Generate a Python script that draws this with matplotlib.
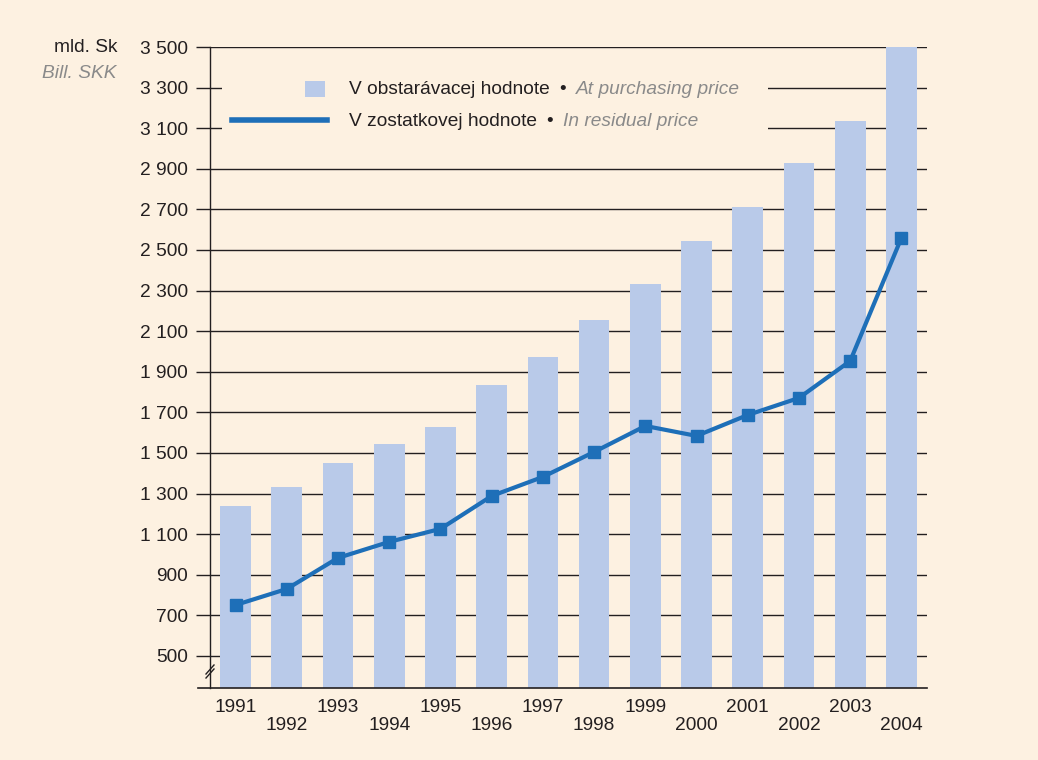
import matplotlib.pyplot as plt
from matplotlib.patches import Rectangle
from matplotlib.lines import Line2D

# data
years = [1991, 1992, 1993, 1994, 1995, 1996, 1997, 1998, 1999, 2000, 2001, 2002, 2003, 2004]
purchasing = [1240, 1330, 1450, 1545, 1630, 1835, 1975, 2155, 2330, 2545, 2712, 2930, 3135, 3500]
residual = [751, 830, 983, 1062, 1126, 1288, 1382, 1505, 1633, 1584, 1687, 1771, 1953, 2559]
yticks = list(range(500, 3501, 200))

bg = "#fdf1e1"
bar_col = "#b9cae9"
line_col = "#1e6fb8"
dark = "#231f20"
gray = "#8a8a8a"

plt.rcParams['font.family'] = ['Liberation Sans', 'DejaVu Sans']
fs = 13.8

W, H = 1038, 760
fig = plt.figure(figsize=(W / 100, H / 100), dpi=100, facecolor=bg)


def px(x, y):
    return x / W, (H - y) / H


ax = fig.add_axes([210 / W, (H - 688) / H, 717 / W, 641 / H])
ax.set_facecolor(bg)

x = list(range(len(years)))
ax.bar(x, purchasing, width=0.6, color=bar_col, zorder=2)
ax.plot(x, residual, color=line_col, lw=3, marker='s', markersize=8, zorder=5)

ax.set_xlim(-0.5, 13.5)
ax.set_ylim(342, 3500)
ax.set_yticks(yticks)
ax.set_yticklabels([f"{v:,}".replace(",", " ") for v in yticks], fontsize=fs, color=dark)
ax.set_xticks([])
ax.tick_params(axis='y', length=10, width=1, pad=6, color=dark, direction='out')
ax.yaxis.grid(True, color=dark, lw=1)
ax.set_axisbelow(True)

for s in ['top', 'right', 'bottom']:
    ax.spines[s].set_visible(False)
ax.spines['left'].set_color(dark)
ax.spines['left'].set_linewidth(1)

# bottom axis line, a bit past the spine
fig.add_artist(Line2D([198 / W, 927 / W], [(H - 688) / H] * 2, color=dark, lw=1.2))

# axis break marks
for dy in (0, 4):
    x0, y0 = px(206, 678 - dy)
    x1, y1 = px(214, 669 - dy)
    fig.add_artist(Line2D([x0, x1], [y0, y1], color=dark, lw=1))

# year labels in two rows
for i, yr in enumerate(years):
    off = -17.5 if i % 2 == 0 else -30.5
    ax.annotate(str(yr), xy=(i, 0), xycoords=('data', 'axes fraction'),
                xytext=(0, off), textcoords='offset points',
                ha='center', va='baseline', fontsize=fs, color=dark)

# unit labels
fig.text(*px(117, 48), "mld. Sk", ha='right', va='center', fontsize=fs, color=dark)
fig.text(*px(117, 74), "Bill. SKK", ha='right', va='center', fontsize=fs,
         color=gray, style='italic')

# legend drawn by hand, inside the axes so it sits over the gridlines
tf = fig.transFigure
bx0, by0 = px(222, 136)
bx1, by1 = px(768, 74)
ax.add_patch(Rectangle((bx0, by0), bx1 - bx0, by1 - by0, transform=tf,
                       facecolor=bg, edgecolor='none', zorder=3, clip_on=False))
rx, ry = px(305, 97)
ax.add_patch(Rectangle((rx, ry), 20 / W, 16 / H, transform=tf,
                       facecolor=bar_col, edgecolor='none', zorder=4, clip_on=False))
lx0, ly = px(232, 120)
lx1, _ = px(327, 120)
ax.add_line(Line2D([lx0, lx1], [ly, ly], transform=tf, color=line_col, lw=4,
                   zorder=4, clip_on=False))

rows = [("V obstarávacej hodnote", "At purchasing price", 89),
        ("V zostatkovej hodnote", "In residual price", 121)]
for main, eng, yy in rows:
    t1 = ax.text(*px(349, yy), main, transform=tf, ha='left', va='center',
                 fontsize=fs, color=dark, zorder=4, clip_on=False)
    b = ax.annotate("•", xy=(1, 0.5), xycoords=t1, xytext=(7, 0),
                    textcoords='offset points', ha='left', va='center',
                    fontsize=fs, color=dark, zorder=4, annotation_clip=False)
    ax.annotate(eng, xy=(1, 0.5), xycoords=b, xytext=(7, 0),
                textcoords='offset points', ha='left', va='center',
                fontsize=fs, color=gray, style='italic', zorder=4,
                annotation_clip=False)

fig.savefig("out.png", dpi=100, facecolor=bg)
